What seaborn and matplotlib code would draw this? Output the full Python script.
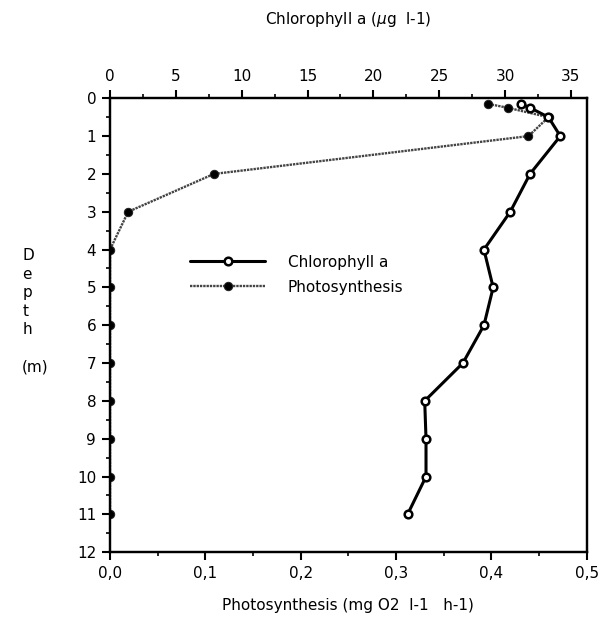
import numpy as np
import pandas as pd
import matplotlib
matplotlib.use("Agg")
import matplotlib.pyplot as plt
import seaborn as sns
from matplotlib.ticker import MultipleLocator

# depth profiles (m)
chl_depth = [0.15, 0.25, 0.5, 1, 2, 3, 4, 5, 6, 7, 8, 9, 10, 11]
chl_values = [31.2, 31.9, 33.3, 34.2, 31.9, 30.4, 28.4, 29.1, 28.4, 26.8, 23.9, 24.0, 24.0, 22.6]

photo_depth = [0.15, 0.25, 0.5, 1, 2, 3, 4, 5, 6, 7, 8, 9, 10, 11]
photo_values = [0.397, 0.417, 0.46, 0.439, 0.109, 0.019, 0.0, 0.0, 0.0, 0.0, 0.0, 0.0, 0.0, 0.0]

chl_ticks = [0, 5, 10, 15, 20, 25, 30, 35]
photo_ticks = [0.0, 0.1, 0.2, 0.3, 0.4, 0.5]
photo_ticklabels = ["0,0", "0,1", "0,2", "0,3", "0,4", "0,5"]
depth_ticks = list(range(0, 13))

sns.set_style("ticks")
plt.rcParams['font.family'] = ['DejaVu Sans']
plt.rcParams['text.color'] = 'black'
plt.rcParams['axes.labelcolor'] = 'black'
plt.rcParams['xtick.color'] = 'black'
plt.rcParams['ytick.color'] = 'black'
plt.rcParams['axes.edgecolor'] = 'black'

chl_df = pd.DataFrame({'Depth': chl_depth, 'Chlorophyll a': chl_values})
photo_df = pd.DataFrame({'Depth': photo_depth, 'Photosynthesis': photo_values})

fig = plt.figure(figsize=(5.98, 6.34), dpi=100)
ax = fig.add_axes([0.184, 0.129, 0.797, 0.716])
ax2 = ax.twiny()

# photosynthesis on the bottom axis
sns.lineplot(data=photo_df, x='Photosynthesis', y='Depth', sort=False, estimator=None,
             ax=ax, color='#444444', linewidth=1.7, linestyle=(0, (1, 0.4)),
             marker='o', markersize=6, markerfacecolor='black', markeredgecolor='#222222',
             label='Photosynthesis', legend=False)

# chlorophyll on the top axis
sns.lineplot(data=chl_df, x='Chlorophyll a', y='Depth', sort=False, estimator=None,
             ax=ax2, color='black', linewidth=2.2,
             marker='o', markersize=5.5, markerfacecolor='white', markeredgecolor='black',
             markeredgewidth=1.8, label='Chlorophyll a', legend=False)

ax.set_xlim(0, 0.5)
ax.set_ylim(12, 0)
ax2.set_xlim(0, 36.2)

ax.set_xticks(photo_ticks)
ax.set_xticklabels(photo_ticklabels)
ax.xaxis.set_minor_locator(MultipleLocator(0.05))
ax.set_yticks(depth_ticks)
ax.yaxis.set_minor_locator(MultipleLocator(0.5))
ax2.set_xticks(chl_ticks)
ax2.xaxis.set_minor_locator(MultipleLocator(2.5))

for a in (ax, ax2):
    for s in a.spines.values():
        s.set_linewidth(1.6)
        s.set_visible(True)
    a.tick_params(which='major', direction='out', length=6, width=1.5, labelsize=11, pad=4)
    a.tick_params(which='minor', direction='out', length=3, width=1.2)

ax.set_xlabel('Photosynthesis (mg O2  l-1   h-1)', fontsize=11, labelpad=12)
ax2.set_xlabel('Chlorophyll a ($\\mu$g  l-1)', fontsize=11, labelpad=33)
ax.set_ylabel('')

fig.text(0.037, 0.509, "D\ne\np\nt\nh\n\n(m)", fontsize=11, ha='left', va='center',
         linespacing=1.3)

h1, l1 = ax2.get_legend_handles_labels()
h2, l2 = ax.get_legend_handles_labels()
ax.legend(h1 + h2, l1 + l2, loc='upper left', bbox_to_anchor=(0.295, 0.62),
          bbox_transform=fig.transFigure, frameon=False, fontsize=11,
          handlelength=4.9, handletextpad=1.5, labelspacing=0.65)

fig.savefig('out.png', dpi=100)
